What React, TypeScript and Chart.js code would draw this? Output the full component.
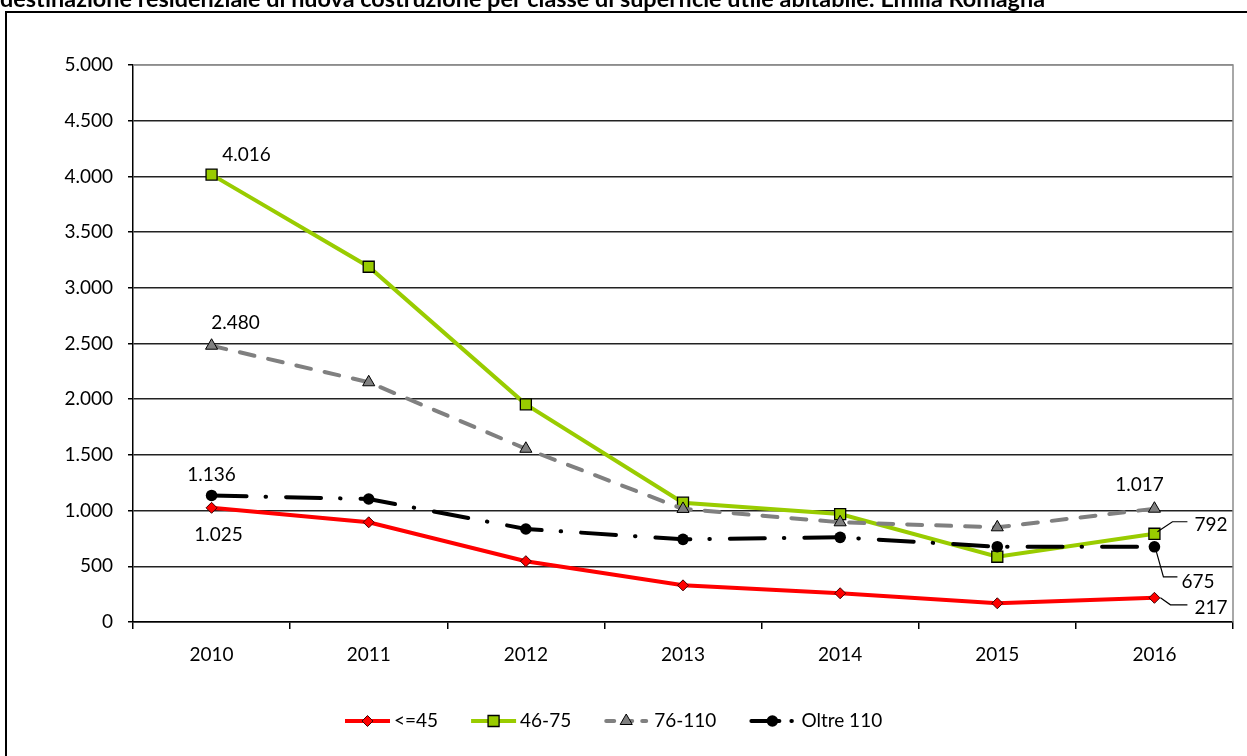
import React, { useEffect, useRef } from "react";
import { Chart, registerables } from "chart.js";

Chart.register(...registerables);

// ---- data ----
const years = ["2010", "2011", "2012", "2013", "2014", "2015", "2016"];
const seriesNames = ["<=45", "46-75", "76-110", "Oltre 110"];
const upTo45 = [1025, 895, 546, 329, 258, 168, 217];
const from46to75 = [4016, 3189, 1954, 1071, 969, 586, 792];
const from76to110 = [2480, 2152, 1555, 1015, 895, 850, 1017];
const over110 = [1136, 1104, 835, 742, 760, 676, 675];
const yMin = 0;
const yMax = 5000;
const yStep = 500;
const titleText =
  "destinazione residenziale di nuova costruzione per classe di superficie utile abitabile: Emilia Romagna";

const FONT = "Lato";

const fmt = (v: number) =>
  Math.round(v)
    .toString()
    .replace(/\B(?=(\d{3})+(?!\d))/g, ".");

function drawMarker(ctx: CanvasRenderingContext2D, style: string, x: number, y: number, r: number, fill: string, stroke: string, bw: number) {
  ctx.save();
  ctx.beginPath();
  if (style === "rectRot") {
    ctx.moveTo(x, y - r);
    ctx.lineTo(x + r, y);
    ctx.lineTo(x, y + r);
    ctx.lineTo(x - r, y);
    ctx.closePath();
  } else if (style === "rect") {
    const s = Math.SQRT1_2 * r;
    ctx.rect(x - s, y - s, 2 * s, 2 * s);
  } else if (style === "triangle") {
    ctx.moveTo(x, y - r);
    ctx.lineTo(x + r * Math.sin(Math.PI / 3), y + r / 2);
    ctx.lineTo(x - r * Math.sin(Math.PI / 3), y + r / 2);
    ctx.closePath();
  } else {
    ctx.arc(x, y, r, 0, Math.PI * 2);
  }
  ctx.fillStyle = fill;
  ctx.fill();
  if (bw > 0) {
    ctx.setLineDash([]);
    ctx.lineWidth = bw;
    ctx.strokeStyle = stroke;
    ctx.stroke();
  }
  ctx.restore();
}

const framePlugin = {
  id: "frame",
  beforeDraw(chart: any) {
    const ctx = chart.ctx as CanvasRenderingContext2D;
    ctx.save();
    ctx.fillStyle = "#fff";
    ctx.fillRect(0, 0, chart.width, chart.height);
    ctx.strokeStyle = "#000";
    ctx.lineWidth = 2;
    ctx.strokeRect(6, 12, chart.width + 40, chart.height + 40);
    ctx.font = `bold 23px ${FONT}`;
    ctx.fillStyle = "#000";
    ctx.textAlign = "left";
    ctx.textBaseline = "alphabetic";
    const w = ctx.measureText(titleText).width;
    ctx.translate(0, 7);
    ctx.scale(1045 / w, 1);
    ctx.fillText(titleText, 0, 0);
    ctx.restore();
  },
  beforeDatasetsDraw(chart: any) {
    const ctx = chart.ctx as CanvasRenderingContext2D;
    const { left, right, top, bottom } = chart.chartArea;
    ctx.save();
    ctx.strokeStyle = "#8c8c8c";
    ctx.lineWidth = 1.5;
    ctx.beginPath();
    ctx.moveTo(left, top);
    ctx.lineTo(right, top);
    ctx.lineTo(right, bottom);
    ctx.stroke();
    ctx.restore();
  },
};

// label placements relative to the point positions computed by the chart
const labelSpecs = [
  { ds: 1, i: 0, dx: 35, dy: -20, align: "center", leader: null as number[][] | null },
  { ds: 2, i: 0, dx: 24, dy: -23, align: "center", leader: null },
  { ds: 3, i: 0, dx: 0, dy: -21, align: "center", leader: null },
  { ds: 0, i: 0, dx: 7, dy: 27, align: "center", leader: null },
  { ds: 2, i: 6, dx: -15, dy: -24, align: "center", leader: null },
  { ds: 1, i: 6, dx: 40, dy: -9, align: "left", leader: [[3, -2], [18, -12], [33, -12]] },
  { ds: 3, i: 6, dx: 27, dy: 35, align: "left", leader: [[2, 5], [9, 30], [23, 30]] },
  { ds: 0, i: 6, dx: 40, dy: 10, align: "left", leader: [[6, 0], [16, 7], [33, 7]] },
];

const labelsPlugin = {
  id: "pointLabels",
  afterDatasetsDraw(chart: any) {
    const ctx = chart.ctx as CanvasRenderingContext2D;
    ctx.save();
    ctx.font = `19px ${FONT}`;
    ctx.fillStyle = "#000";
    ctx.textBaseline = "middle";
    for (const s of labelSpecs) {
      const el = chart.getDatasetMeta(s.ds).data[s.i];
      const v = chart.data.datasets[s.ds].data[s.i] as number;
      if (s.leader) {
        ctx.strokeStyle = "#000";
        ctx.lineWidth = 1.2;
        ctx.setLineDash([]);
        ctx.beginPath();
        s.leader.forEach((p, k) => {
          if (k === 0) ctx.moveTo(el.x + p[0], el.y + p[1]);
          else ctx.lineTo(el.x + p[0], el.y + p[1]);
        });
        ctx.stroke();
      }
      ctx.textAlign = s.align as CanvasTextAlign;
      ctx.fillText(fmt(v), el.x + s.dx, el.y + s.dy);
    }
    ctx.restore();
  },
};

const legendPlugin = {
  id: "customLegend",
  afterDraw(chart: any) {
    const ctx = chart.ctx as CanvasRenderingContext2D;
    const y = 721;
    let x = 345;
    const sampleDash: number[][] = [[], [], [8, 10], [28, 12, 0.5, 20]];
    const sampleLen = [45, 45, 40, 41];
    const sampleStart = [0, 0, 2, 2];
    const markerPos = [22.5, 22.5, 22, 23];
    ctx.save();
    ctx.font = `19px ${FONT}`;
    ctx.textBaseline = "middle";
    ctx.textAlign = "left";
    chart.data.datasets.forEach((ds: any, k: number) => {
      ctx.save();
      ctx.strokeStyle = ds.borderColor;
      ctx.lineWidth = ds.borderWidth;
      ctx.lineCap = ds.borderCapStyle || "butt";
      ctx.setLineDash(sampleDash[k]);
      ctx.beginPath();
      ctx.moveTo(x + sampleStart[k], y);
      ctx.lineTo(x + sampleStart[k] + sampleLen[k], y);
      ctx.stroke();
      ctx.restore();
      drawMarker(ctx, ds.pointStyle, x + markerPos[k], y, ds.pointRadius, ds.pointBackgroundColor, ds.pointBorderColor, ds.pointBorderWidth);
      const tx = x + 45 + 4 + (k === 3 ? 3 : k === 2 ? 1 : 0);
      ctx.fillStyle = "#000";
      ctx.fillText(ds.label, tx, y);
      x = tx + ctx.measureText(ds.label).width + 33;
    });
    ctx.restore();
  },
};

export default function App() {
  const ref = useRef<HTMLCanvasElement>(null);
  useEffect(() => {
    document.body.style.margin = "0";
    const chart = new Chart(ref.current as HTMLCanvasElement, {
      type: "line",
      data: {
        labels: years,
        datasets: [
          {
            label: seriesNames[0],
            data: upTo45,
            borderColor: "#FF0000",
            backgroundColor: "#FF0000",
            borderWidth: 4,
            tension: 0,
            pointStyle: "rectRot",
            pointRadius: 5.5,
            pointBackgroundColor: "#FF0000",
            pointBorderColor: "#400000",
            pointBorderWidth: 1,
            order: 3,
          },
          {
            label: seriesNames[1],
            data: from46to75,
            borderColor: "#99CC00",
            backgroundColor: "#99CC00",
            borderWidth: 4,
            tension: 0,
            pointStyle: "rect",
            pointRadius: 7.8,
            pointBackgroundColor: "#99CC00",
            pointBorderColor: "#000",
            pointBorderWidth: 1.3,
            order: 2,
          },
          {
            label: seriesNames[2],
            data: from76to110,
            borderColor: "#808080",
            backgroundColor: "#808080",
            borderWidth: 4,
            borderDash: [15, 14],
            borderCapStyle: "round",
            tension: 0,
            pointStyle: "triangle",
            pointRadius: 7,
            pointBackgroundColor: "#808080",
            pointBorderColor: "#000",
            pointBorderWidth: 1,
            order: 1,
          },
          {
            label: seriesNames[3],
            data: over110,
            borderColor: "#000",
            backgroundColor: "#000",
            borderWidth: 4,
            borderDash: [35, 19, 0.5, 20],
            borderCapStyle: "round",
            tension: 0,
            pointStyle: "circle",
            pointRadius: 5.8,
            pointBackgroundColor: "#000",
            pointBorderColor: "#000",
            pointBorderWidth: 0,
            order: 0,
          },
        ] as any,
      },
      options: {
        responsive: false,
        animation: false,
        layout: { padding: { top: 65, right: 14, bottom: 84, left: 0 } },
        plugins: {
          legend: { display: false },
          tooltip: { enabled: false },
          title: { display: false },
        },
        scales: {
          x: {
            offset: true,
            grid: {
              offset: true,
              drawOnChartArea: false,
              drawTicks: true,
              tickLength: 7,
              color: "#000",
              lineWidth: 1.5,
            },
            border: { color: "#000", width: 1.5 },
            ticks: {
              font: { family: FONT, size: 19 },
              color: "#000",
              padding: 14,
              maxRotation: 0,
              autoSkip: false,
            },
            afterFit: (s: any) => {
              s.height = 50;
            },
          },
          y: {
            min: yMin,
            max: yMax,
            ticks: {
              stepSize: yStep,
              callback: (v: any) => fmt(Number(v)),
              font: { family: FONT, size: 19 },
              color: "#000",
              padding: 15,
            },
            grid: {
              color: (c: any) => (c.tick && c.tick.value === yMax ? "#8c8c8c" : "#222"),
              tickColor: "#000",
              tickLength: 5,
              lineWidth: 1.5,
            },
            border: { color: "#000", width: 1.5 },
            afterFit: (s: any) => {
              s.width = 133;
            },
          },
        },
      } as any,
      plugins: [framePlugin, labelsPlugin, legendPlugin],
    });
    return () => chart.destroy();
  }, []);
  return (
    <canvas
      ref={ref}
      width={1247}
      height={756}
      style={{ display: "block", position: "absolute", left: 0, top: 0 }}
    />
  );
}
